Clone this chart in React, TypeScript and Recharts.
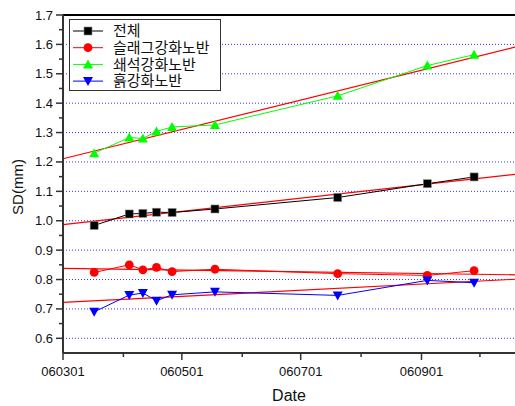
import React from 'react'
import {
  LineChart,
  Line,
  XAxis,
  YAxis,
  ReferenceLine,
  Legend
} from 'recharts'

// days counted from 2006-03-01
const days = [16, 34, 41, 48, 56, 78, 141, 187, 211]
const totalSD = [0.984, 1.023, 1.025, 1.029, 1.028, 1.04, 1.079, 1.126, 1.149]
const slagSD = [0.824, 0.85, 0.833, 0.841, 0.827, 0.835, 0.82, 0.814, 0.83]
const crushedSD = [1.23, 1.283, 1.28, 1.304, 1.319, 1.326, 1.425, 1.528, 1.565]
const soilSD = [0.69, 0.747, 0.754, 0.728, 0.748, 0.758, 0.746, 0.797, 0.789]

// fitted trend lines, read at both ends of the x range
const fitDays = [0, 232]
const totalFit = [0.987, 1.158]
const slagFit = [0.838, 0.816]
const crushedFit = [1.211, 1.591]
const soilFit = [0.722, 0.801]

const xMajor = [0, 61, 122, 184]
const xMinor = [31, 92, 153, 214]
const xLabels = ['060301', '060501', '060701', '060901']
const yMajor = [0.6, 0.7, 0.8, 0.9, 1.0, 1.1, 1.2, 1.3, 1.4, 1.5, 1.6, 1.7]
const yMinor = [0.65, 0.75, 0.85, 0.95, 1.05, 1.15, 1.25, 1.35, 1.45, 1.55, 1.65]
const gridLines = [0.6, 0.7, 0.8, 0.9, 1.0, 1.1, 1.2, 1.3, 1.4, 1.5, 1.6]

const seriesNames = ['전체', '슬래그강화노반', '쇄석강화노반', '흙강화노반']
const seriesColors = ['#000000', '#ff0000', '#00ff00', '#0000ff']
const seriesShapes = ['square', 'circle', 'up', 'down']

const data = days.map((d, i) => ({
  d,
  total: totalSD[i],
  slag: slagSD[i],
  crushed: crushedSD[i],
  soil: soilSD[i]
}))

const fitData = fitDays.map((d, i) => ({
  d,
  total: totalFit[i],
  slag: slagFit[i],
  crushed: crushedFit[i],
  soil: soilFit[i]
}))

const numFont = '"Liberation Sans", Arial, sans-serif'
const krFont = '"Noto Sans CJK KR", "Noto Sans", sans-serif'

const Marker = ({ cx, cy, shape, color }: any) => {
  if (cx == null || cy == null) return null
  if (shape === 'square')
    return <rect x={cx - 4} y={cy - 4} width={8} height={8} fill={color} stroke="#888" strokeWidth={0.6} />
  if (shape === 'circle') return <circle cx={cx} cy={cy} r={4.4} fill={color} />
  if (shape === 'up')
    return <polygon points={`${cx - 5},${cy + 4} ${cx + 5},${cy + 4} ${cx},${cy - 5}`} fill={color} />
  return <polygon points={`${cx - 5},${cy - 4} ${cx + 5},${cy - 4} ${cx},${cy + 5}`} fill={color} />
}

const makeDot = (shape: string, color: string) => (props: any) =>
  <Marker key={`${shape}-${props.index}`} cx={props.cx} cy={props.cy} shape={shape} color={color} />

const YTick = ({ x, y, payload }: any) => {
  const major = yMajor.some(v => Math.abs(v - payload.value) < 1e-6)
  return (
    <g>
      <line x1={x - (major ? 7 : 4)} y1={y} x2={x} y2={y} stroke="#333" strokeWidth={1.5} />
      {major && (
        <text x={x - 10} y={y + 4.5} textAnchor="end" fontSize={13} fontFamily={numFont} fill="#111">
          {payload.value.toFixed(1)}
        </text>
      )}
    </g>
  )
}

const XTick = ({ x, y, payload }: any) => {
  const idx = xMajor.indexOf(payload.value)
  const major = idx >= 0
  return (
    <g>
      <line x1={x} y1={y} x2={x} y2={y + (major ? 7 : 4)} stroke="#333" strokeWidth={1.5} />
      {major && (
        <text x={x} y={y + 22.5} textAnchor="middle" fontSize={13} fontFamily={numFont} fill="#111">
          {xLabels[idx]}
        </text>
      )}
    </g>
  )
}

const LegendBox = () => (
  <svg width={152} height={72} style={{ display: 'block' }}>
    <rect x={0.5} y={0.5} width={151} height={71} fill="#fff" stroke="#333" strokeWidth={1} />
    {seriesNames.map((name, i) => {
      const cy = 12 + i * 16.7
      return (
        <g key={name}>
          <line x1={4} y1={cy} x2={34} y2={cy} stroke={seriesColors[i]} strokeWidth={1} />
          <Marker cx={19} cy={cy} shape={seriesShapes[i]} color={seriesColors[i]} />
          <text x={44} y={cy + 5.3} fontSize={15} fontFamily={krFont} fill="#111">
            {name}
          </text>
        </g>
      )
    })}
  </svg>
)

const App = () => {
  return (
    <div style={{ position: 'absolute', left: 0, top: 0, background: '#fff' }}>
      <LineChart width={515} height={406} data={data} margin={{ top: 15, right: 0, left: 0, bottom: 0 }}>
        <XAxis
          type="number"
          dataKey="d"
          domain={[0, 232]}
          ticks={[...xMajor, ...xMinor]}
          interval={0}
          height={53}
          tickSize={0}
          tickMargin={0}
          tickLine={false}
          tick={<XTick />}
          axisLine={{ stroke: '#333', strokeWidth: 2 }}
          label={{
            content: ({ viewBox }: any) => (
              <text
                x={viewBox.x + viewBox.width / 2}
                y={401}
                textAnchor="middle"
                fontSize={16}
                fontFamily={numFont}
                fill="#111"
              >
                Date
              </text>
            )
          }}
        />
        <YAxis
          type="number"
          domain={[0.55, 1.7]}
          ticks={[...yMajor, ...yMinor]}
          interval={0}
          width={63}
          tickSize={0}
          tickMargin={0}
          tickLine={false}
          tick={<YTick />}
          axisLine={{ stroke: '#333', strokeWidth: 2 }}
          label={{
            content: ({ viewBox }: any) => {
              const cx = 19
              const cy = viewBox.y + viewBox.height / 2 + 3
              return (
                <text
                  x={cx}
                  y={cy}
                  transform={`rotate(-90 ${cx} ${cy})`}
                  textAnchor="middle"
                  dominantBaseline="middle"
                  fontSize={15}
                  fontFamily={numFont}
                  fill="#111"
                >
                  SD(mm)
                </text>
              )
            }
          }}
        />
        {gridLines.map(v => (
          <ReferenceLine key={v} y={v} stroke="#3333ff" strokeDasharray="1 2" strokeWidth={1} />
        ))}
        <ReferenceLine y={1.7} stroke="#000" strokeWidth={2} />
        <Legend
          layout="vertical"
          align="center"
          verticalAlign="middle"
          wrapperStyle={{ position: 'absolute', left: 69, top: 19, width: 'auto' }}
          content={() => <LegendBox />}
        />

        <Line data={fitData} dataKey="total" stroke="#ff0000" strokeWidth={1.2} dot={false} isAnimationActive={false} legendType="none" />
        <Line data={fitData} dataKey="slag" stroke="#ff0000" strokeWidth={1.2} dot={false} isAnimationActive={false} legendType="none" />
        <Line data={fitData} dataKey="crushed" stroke="#ff0000" strokeWidth={1.2} dot={false} isAnimationActive={false} legendType="none" />
        <Line data={fitData} dataKey="soil" stroke="#ff0000" strokeWidth={1.2} dot={false} isAnimationActive={false} legendType="none" />

        <Line dataKey="total" stroke="#000000" strokeWidth={1} dot={makeDot('square', '#000000')} isAnimationActive={false} />
        <Line dataKey="slag" stroke="#ff0000" strokeWidth={1} dot={makeDot('circle', '#ff0000')} isAnimationActive={false} />
        <Line dataKey="crushed" stroke="#00ff00" strokeWidth={1} dot={makeDot('up', '#00ff00')} isAnimationActive={false} />
        <Line dataKey="soil" stroke="#0000ff" strokeWidth={1} dot={makeDot('down', '#0000ff')} isAnimationActive={false} />
      </LineChart>
    </div>
  )
}

export default App
